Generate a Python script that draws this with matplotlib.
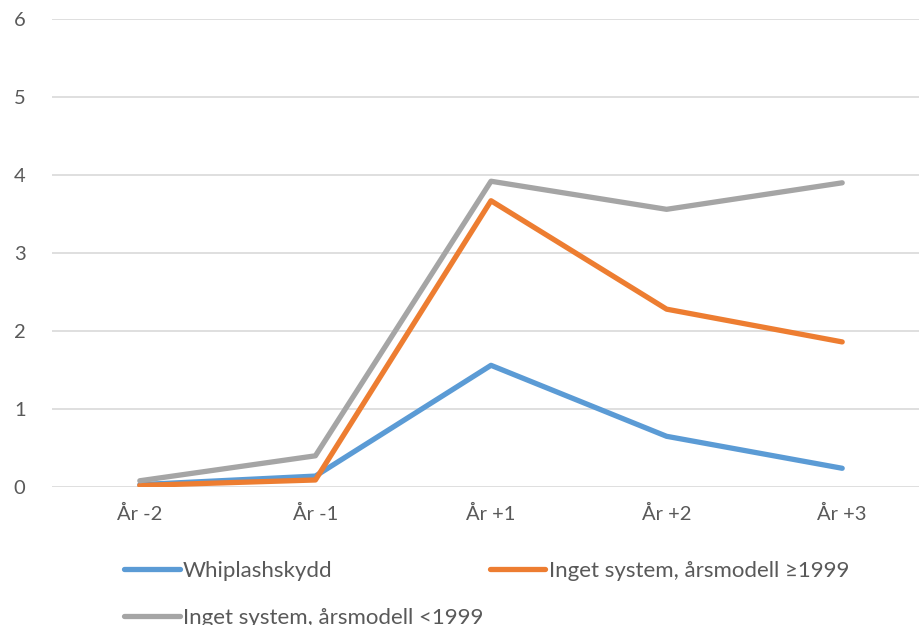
import matplotlib
matplotlib.use('Agg')
import matplotlib.pyplot as plt

# data
categories = ["År -2", "År -1", "År +1", "År +2", "År +3"]
whiplash = [0.03, 0.14, 1.56, 0.65, 0.24]
inget_nya = [0.02, 0.09, 3.67, 2.28, 1.86]
inget_gamla = [0.08, 0.40, 3.92, 3.56, 3.90]
labels = ["Whiplashskydd", "Inget system, årsmodell ≥1999", "Inget system, årsmodell <1999"]

plt.rcParams['font.family'] = ['Lato', 'DejaVu Sans']
txt = '#595959'
grid = '#D9D9D9'

fig = plt.figure(figsize=(9.2, 6.25), dpi=100)
ax = fig.add_axes([52 / 920, 1 - 487 / 625, (930 - 52) / 920, (487 - 19) / 625])

x = list(range(len(categories)))
l1, = ax.plot(x, whiplash, color='#5B9BD5', lw=3.8, solid_capstyle='round', solid_joinstyle='round')
l2, = ax.plot(x, inget_nya, color='#ED7D31', lw=3.8, solid_capstyle='round', solid_joinstyle='round')
l3, = ax.plot(x, inget_gamla, color='#A5A5A5', lw=3.8, solid_capstyle='round', solid_joinstyle='round')

ax.set_xlim(-0.5, len(categories) - 0.5)
ax.set_ylim(0, 6)
ax.set_yticks(range(0, 7))
ax.set_xticks(x)
ax.set_xticklabels(categories)
ax.grid(axis='y', color=grid, lw=1.2)
ax.set_axisbelow(True)
for s in ax.spines.values():
    s.set_visible(False)
ax.tick_params(length=0, labelsize=14.5, colors=txt)
ax.tick_params(axis='y', pad=19)
ax.tick_params(axis='x', pad=13)

# matplotlib fills columns first, Excel fills rows -> reorder
fig.legend([l1, l3, l2], [labels[0], labels[2], labels[1]], ncol=2,
           loc='upper left', bbox_to_anchor=(124 / 920, 1 - 561 / 625),
           frameon=False, fontsize=16, labelcolor=txt, handlelength=2.5,
           handletextpad=0.15, columnspacing=0.3, labelspacing=1.2,
           borderaxespad=0, borderpad=0)

fig.savefig('out.png', dpi=100)
